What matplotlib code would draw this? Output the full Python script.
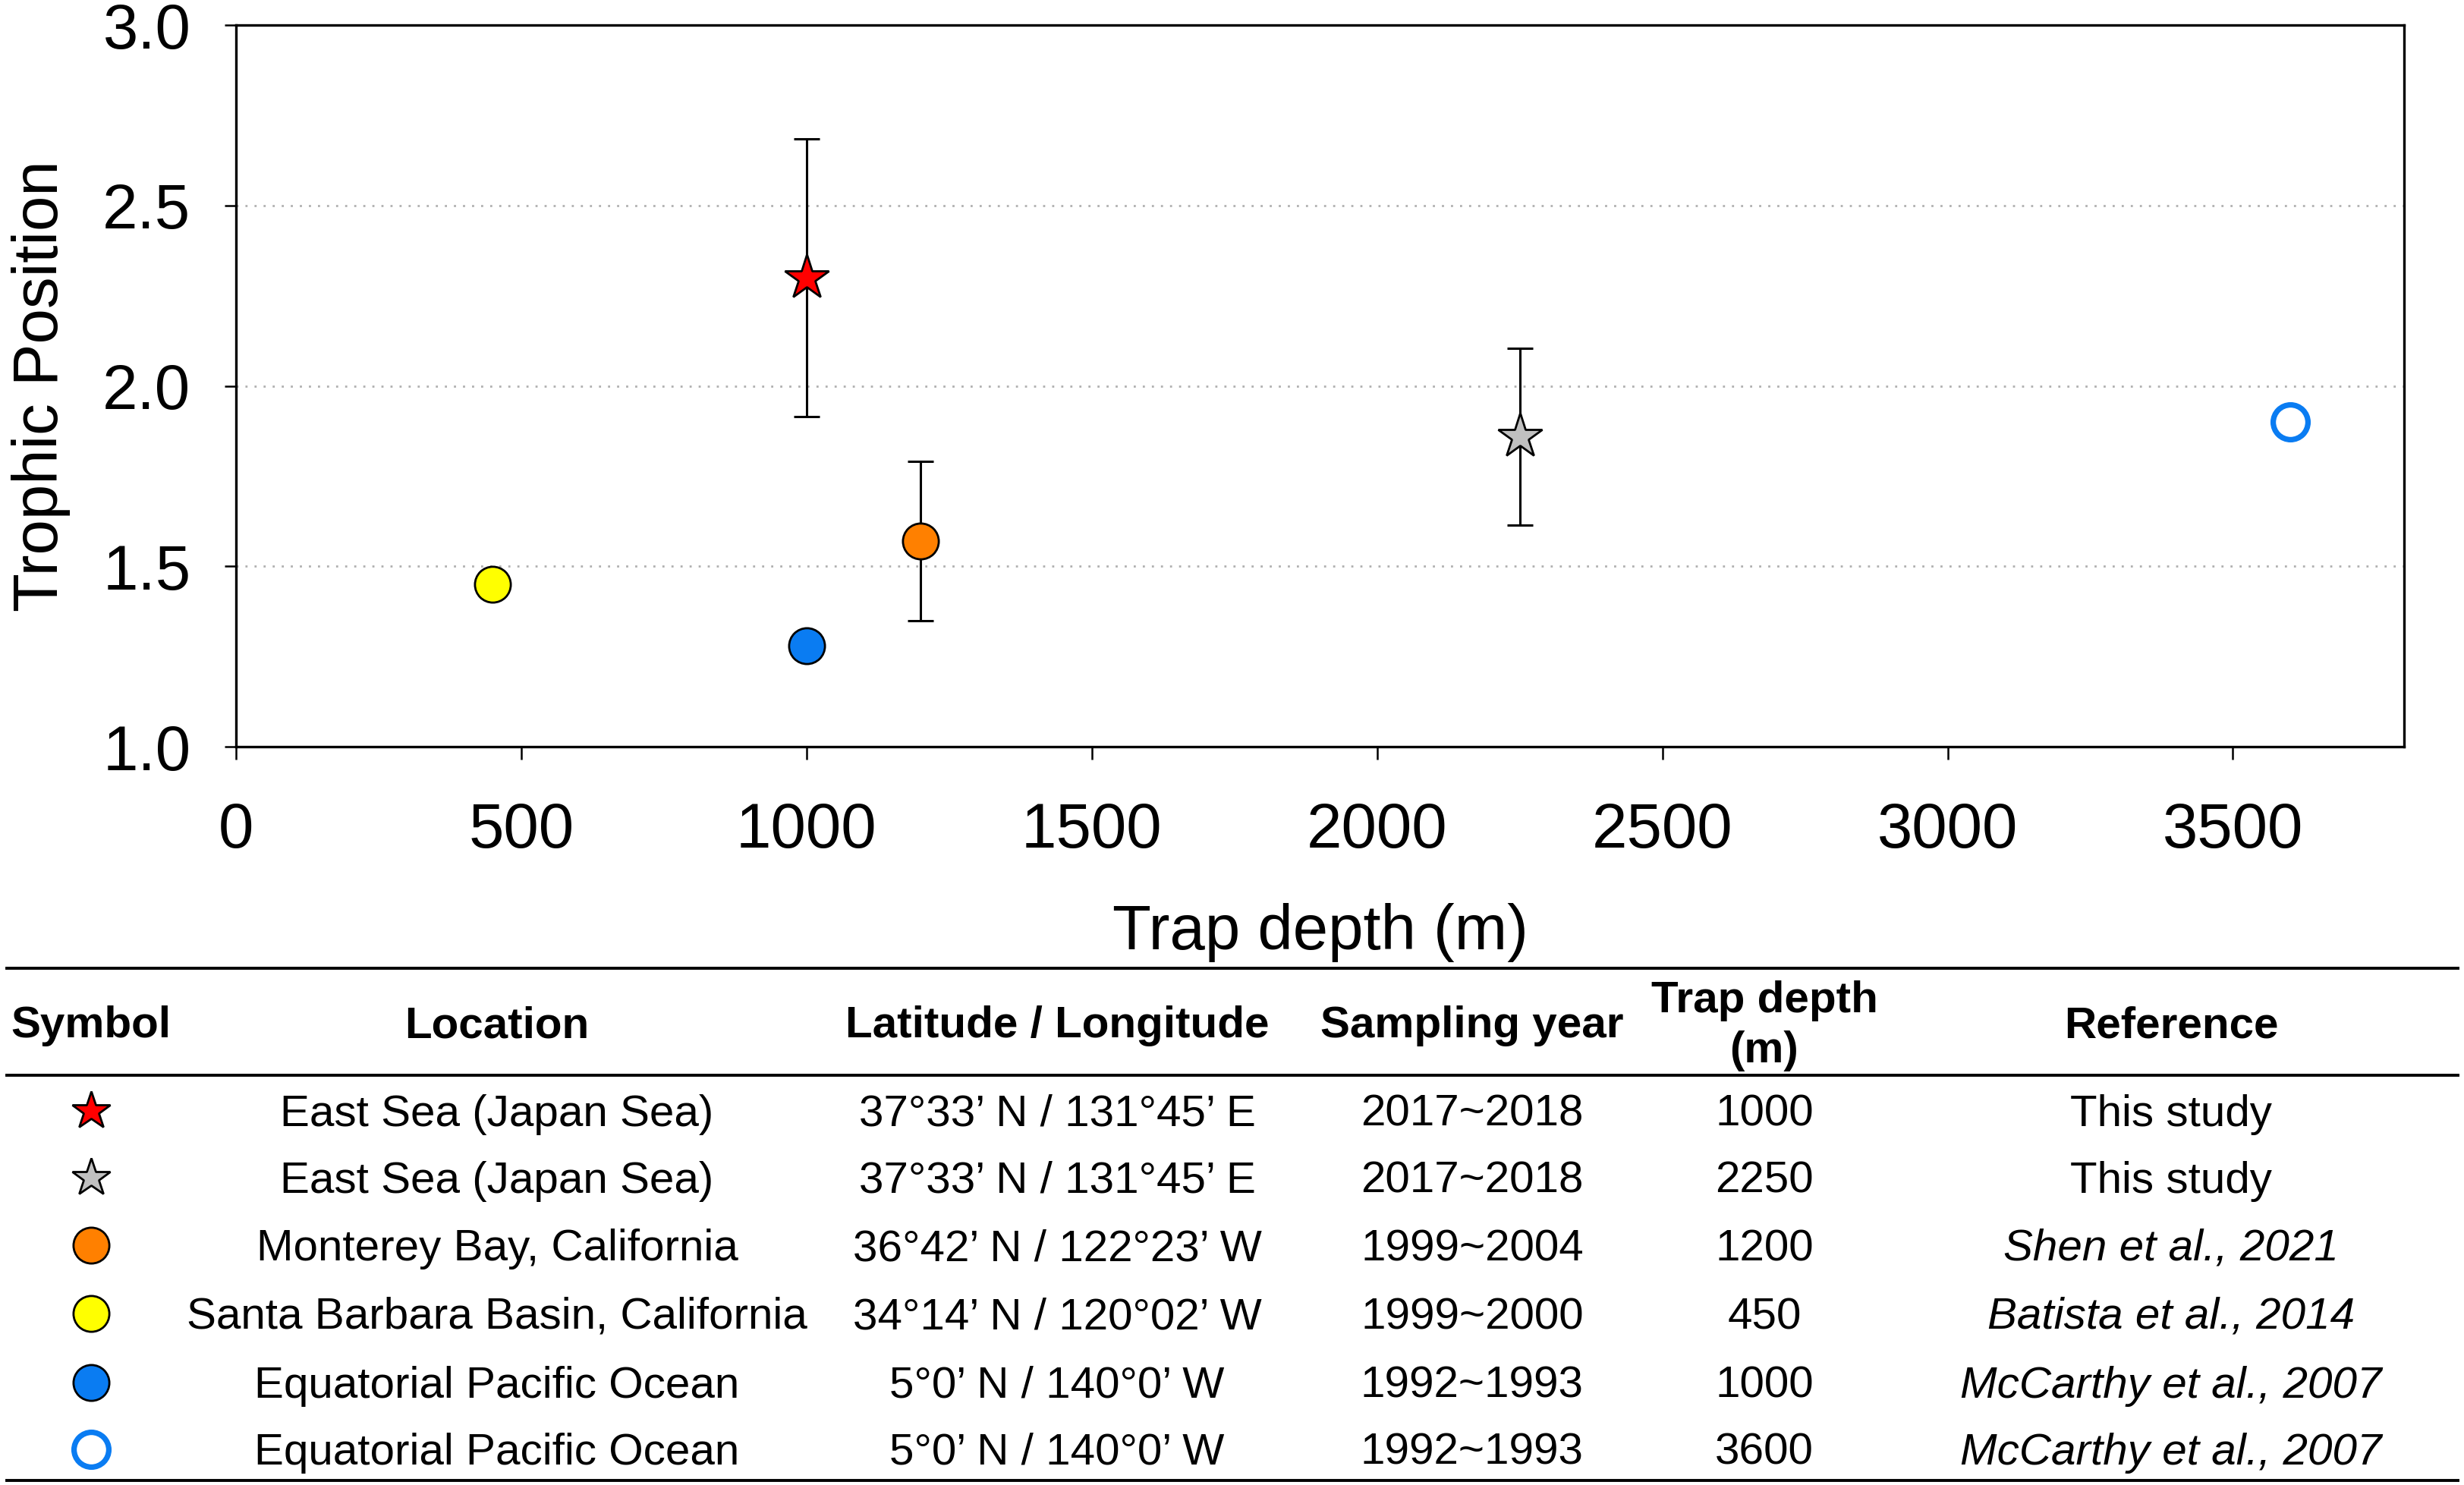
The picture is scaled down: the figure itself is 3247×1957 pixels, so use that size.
import matplotlib
matplotlib.use("Agg")
import matplotlib.pyplot as plt
from matplotlib.lines import Line2D

plt.rcParams['font.family'] = ['Liberation Sans', 'DejaVu Sans']

# ---- data ----
depth = [1000, 2250, 1200, 450, 1000, 3600]
trophic = [2.30, 1.86, 1.57, 1.45, 1.28, 1.90]
trophic_err = [0.385, 0.245, 0.22, None, None, None]
face_colors = ['#FF0000', '#C0C0C0', '#FF8000', '#FFFF00', '#0A7CF2', 'white']
edge_colors = ['black', 'black', 'black', 'black', 'black', '#0A7CF2']
markers = ['*', '*', 'o', 'o', 'o', 'o']
plot_sizes = [22, 22, 17, 17, 17, 16.5]
table_sizes = [19, 19, 17, 17, 17, 16.5]
edge_widths = [1.0, 1.0, 1.0, 1.0, 1.0, 2.6]

col_headers = ['Symbol', 'Location', 'Latitude / Longitude', 'Sampling year', 'Trap depth\n(m)', 'Reference']
locations = ['East Sea (Japan Sea)', 'East Sea (Japan Sea)', 'Monterey Bay, California',
             'Santa Barbara Basin, California', 'Equatorial Pacific Ocean', 'Equatorial Pacific Ocean']
latlon = ['37°33’ N / 131°45’ E', '37°33’ N / 131°45’ E', '36°42’ N / 122°23’ W',
          '34°14’ N / 120°02’ W', '5°0’ N / 140°0’ W', '5°0’ N / 140°0’ W']
years = ['2017~2018', '2017~2018', '1999~2004', '1999~2000', '1992~1993', '1992~1993']
trap_depths = ['1000', '2250', '1200', '450', '1000', '3600']
references = ['This study', 'This study', 'Shen et al., 2021', 'Batista et al., 2014',
              'McCarthy et al., 2007', 'McCarthy et al., 2007']

xticks = [0, 500, 1000, 1500, 2000, 2500, 3000, 3500]
yticks = [1.0, 1.5, 2.0, 2.5, 3.0]

# ---- figure ----
W, H = 3248, 1957
fig = plt.figure(figsize=(W / 200, H / 200), dpi=200)
ax = fig.add_axes([311 / W, 1 - 984 / H, (3168 - 311) / W, (984 - 33) / H])

for i in range(len(depth)):
    if trophic_err[i] is not None:
        ax.errorbar(depth[i], trophic[i], yerr=trophic_err[i], fmt='none',
                    ecolor='black', elinewidth=1.1, capsize=6, capthick=1.1, zorder=2)
    ax.plot(depth[i], trophic[i], marker=markers[i], ms=plot_sizes[i],
            mfc=face_colors[i], mec=edge_colors[i], mew=edge_widths[i],
            linestyle='none', zorder=3)

ax.set_xlim(0, 3800)
ax.set_ylim(1.0, 3.0)
ax.set_xticks(xticks)
ax.set_yticks(yticks)
ax.set_yticklabels([f'{v:.1f}' for v in yticks])
ax.tick_params(axis='x', direction='out', length=6, width=0.9, labelsize=30, pad=20)
ax.tick_params(axis='y', direction='out', length=5.5, width=0.9, labelsize=30, pad=16)
ax.yaxis.grid(True, linestyle=(0, (1, 3.3)), linewidth=1.0, color='#B0B0B0', zorder=0)
ax.set_axisbelow(True)
for s in ax.spines.values():
    s.set_linewidth(1.2)
ax.set_xlabel('Trap depth (m)', fontsize=30, labelpad=20)
ax.set_ylabel('Trophic Position', fontsize=30, labelpad=15)

# ---- table ----
def fy(py):
    return 1 - py / H

def fx(px):
    return px / W

x0, x1 = fx(9), fx(3239)
for py in (1276, 1417, 1951):
    fig.add_artist(Line2D([x0, x1], [fy(py), fy(py)], color='black', linewidth=1.4))

col_x = [120, 655, 1393, 1940, 2325, 2861]
header_y = 1352
for cx, h in zip(col_x, col_headers):
    fig.text(fx(cx), fy(header_y), h, ha='center', va='center', fontsize=21,
             fontweight='bold', linespacing=1.3)

row_y = [1464, 1552, 1641, 1731, 1822, 1910]
text_shift = 5
tab_ax = fig.add_axes([0, 0, 1, 1], facecolor='none')
tab_ax.set_xlim(0, 1)
tab_ax.set_ylim(0, 1)
tab_ax.axis('off')
for i, ry in enumerate(row_y):
    tab_ax.plot(fx(col_x[0]), fy(ry), marker=markers[i], ms=table_sizes[i],
                mfc=face_colors[i], mec=edge_colors[i], mew=edge_widths[i], linestyle='none')
    ty = fy(ry + text_shift)
    fig.text(fx(col_x[1]), ty, locations[i], ha='center', va='center', fontsize=21)
    fig.text(fx(col_x[2]), ty, latlon[i], ha='center', va='center', fontsize=21)
    fig.text(fx(col_x[3]), ty, years[i], ha='center', va='center', fontsize=21)
    fig.text(fx(col_x[4]), ty, trap_depths[i], ha='center', va='center', fontsize=21)
    style = 'normal' if references[i] == 'This study' else 'italic'
    fig.text(fx(col_x[5]), ty, references[i], ha='center', va='center', fontsize=21,
             style=style)

fig.savefig('out.png', dpi=200)
